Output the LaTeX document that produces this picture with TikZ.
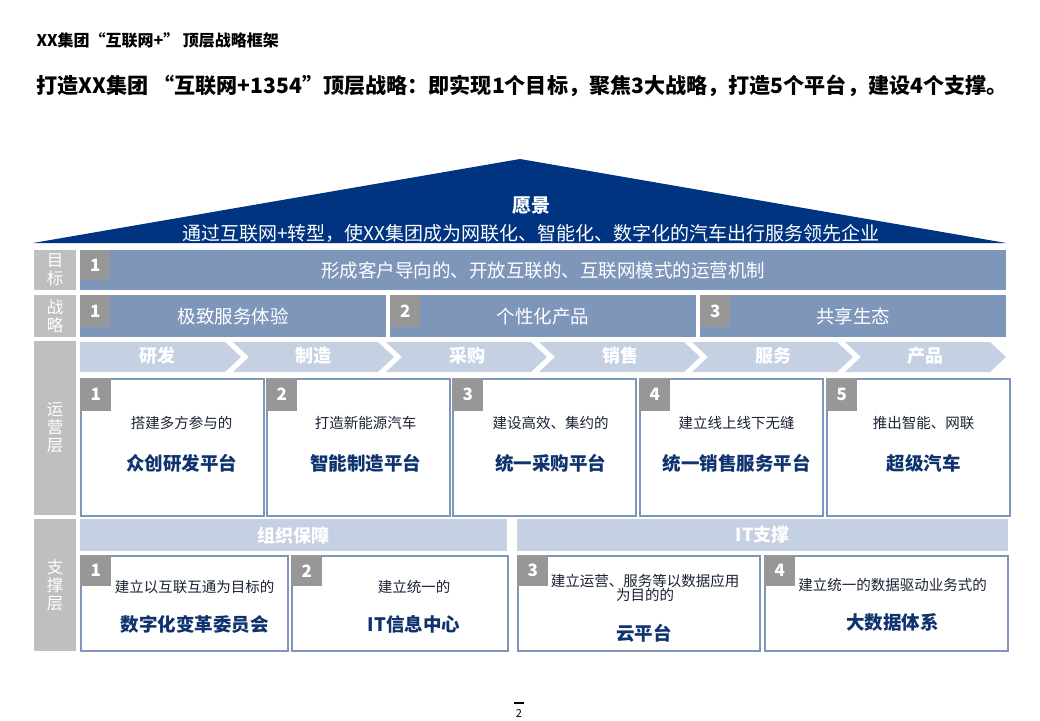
\documentclass[tikz,border=0pt]{standalone}
\usepackage{fontspec}
\setmainfont{Noto Sans CJK SC}
\usetikzlibrary{positioning}

\definecolor{roofblue}{HTML}{003380}
\definecolor{barblue}{HTML}{7F96BB}
\definecolor{chevblue}{HTML}{C5D0E2}
\definecolor{labelgray}{HTML}{BFBFBF}
\definecolor{numgray}{HTML}{979797}
\definecolor{titleblue}{HTML}{0E336E}
\definecolor{subdark}{HTML}{1B2236}

\begin{document}
\begin{tikzpicture}[x=1pt, y=-1pt,
  lbl/.style={fill=labelgray, text=white, inner sep=0pt, align=center, anchor=north west,
    font=\fontsize{16.5}{18}\selectfont},
  bar/.style={fill=barblue, text=white, inner sep=0pt, anchor=north west,
    font=\fontsize{18.5}{22}\selectfont},
  head/.style={fill=chevblue, text=white, inner sep=0pt, anchor=north west,
    font=\fontsize{18}{22}\selectfont\bfseries},
  numbox/.style={fill=numgray, text=white, inner sep=0pt, anchor=north west,
    minimum width=31pt, minimum height=31pt, font=\fontsize{17}{18}\selectfont\bfseries},
  chevtext/.style={text=white, font=\fontsize{18}{22}\selectfont\bfseries},
  platbox/.style={draw=barblue, line width=2pt, fill=white, inner sep=0pt, anchor=north west},
  subtext/.style={text=subdark, align=center, font=\fontsize{14.5}{14}\selectfont},
  maintext/.style={text=titleblue, font=\fontsize{18.5}{22}\selectfont\bfseries},
]

  %% ════ 标题 ════
  \node[anchor=west, font=\fontsize{16}{18}\selectfont\bfseries] (title) at (33,40) {XX集团“互联网+” 顶层战略框架};
  \node[anchor=west, font=\fontsize{21.1}{24}\selectfont\bfseries] (headline) at (33,86)
    {打造XX集团 “互联网+1354”顶层战略：即实现1个目标，聚焦3大战略，打造5个平台，建设4个支撑。};

  %% ════ 屋顶：愿景 ════
  \fill[roofblue] (33,243) -- (520,159) -- (1006,243) -- cycle;
  \node[text=white, font=\fontsize{19}{22}\selectfont\bfseries] (vision) at (531,206) {愿景};
  \node[text=white, font=\fontsize{19}{22}\selectfont] (visiontext) at (531,233)
    {通过互联网+转型，使XX集团成为网联化、智能化、数字化的汽车出行服务领先企业};

  %% ════ 左侧层标签 ════
  \node[lbl, minimum width=42pt, minimum height=40pt] (lgoal) at (34,250) {目\\标};
  \node[lbl, minimum width=42pt, minimum height=42pt] (lstrat) at (34,295) {战\\略};
  \node[lbl, minimum width=42pt, minimum height=174pt] (lops) at (34,341) {运\\营\\层};
  \node[lbl, minimum width=42pt, minimum height=132pt] (lsup) at (34,519) {支\\撑\\层};

  %% ════ 目标 ════
  \node[bar, minimum width=926pt, minimum height=40pt] (goal) at (80,250)
    {形成客户导向的、开放互联的、互联网模式的运营机制};
  \node[numbox, minimum width=30pt, minimum height=30pt] (goalnum) at (goal.north west) {1};

  %% ════ 战略 ════
  \node[bar, minimum width=306pt, minimum height=42pt] (strat1) at (80,295) {极致服务体验};
  \node[bar, minimum width=306pt, minimum height=42pt] (strat2) at (390,295) {个性化产品};
  \node[bar, minimum width=306pt, minimum height=42pt] (strat3) at (700,295) {共享生态};
  \node[numbox, minimum width=30pt, minimum height=32pt] (strat1num) at (strat1.north west) {1};
  \node[numbox, minimum width=30pt, minimum height=32pt] (strat2num) at (strat2.north west) {2};
  \node[numbox, minimum width=30pt, minimum height=32pt] (strat3num) at (strat3.north west) {3};

  %% ════ 价值链箭头 ════
  \fill[chevblue] (80,342) -- (225,342) -- (241,357) -- (225,372) -- (80,372) -- cycle;
  \fill[chevblue] (233,342) -- (378,342) -- (394,357) -- (378,372) -- (233,372) -- (249,357) -- cycle;
  \fill[chevblue] (386,342) -- (531,342) -- (547,357) -- (531,372) -- (386,372) -- (402,357) -- cycle;
  \fill[chevblue] (539,342) -- (684,342) -- (700,357) -- (684,372) -- (539,372) -- (555,357) -- cycle;
  \fill[chevblue] (692,342) -- (837,342) -- (853,357) -- (837,372) -- (692,372) -- (708,357) -- cycle;
  \fill[chevblue] (845,342) -- (990,342) -- (1006,357) -- (990,372) -- (845,372) -- (861,357) -- cycle;
  \node[chevtext] (rnd)     at (157,356) {研发};
  \node[chevtext] (make)    at (313,356) {制造};
  \node[chevtext] (buy)     at (467,356) {采购};
  \node[chevtext] (sell)    at (620,356) {销售};
  \node[chevtext] (service) at (773,356) {服务};
  \node[chevtext] (product) at (925,356) {产品};

  %% ════ 运营层：五个平台 ════
  \node[platbox, minimum width=183pt, minimum height=137pt] (plat1) at (80,378) {};
  \node[platbox, minimum width=183pt, minimum height=137pt] (plat2) at (266,378) {};
  \node[platbox, minimum width=183pt, minimum height=137pt] (plat3) at (452,378) {};
  \node[platbox, minimum width=183pt, minimum height=137pt] (plat4) at (639,378) {};
  \node[platbox, minimum width=183pt, minimum height=137pt] (plat5) at (826,378) {};
  \node[numbox, minimum height=33pt] (plat1num) at (plat1.north west) {1};
  \node[numbox, minimum height=33pt] (plat2num) at (plat2.north west) {2};
  \node[numbox, minimum height=33pt] (plat3num) at (plat3.north west) {3};
  \node[numbox, minimum height=33pt] (plat4num) at (plat4.north west) {4};
  \node[numbox, minimum height=33pt] (plat5num) at (plat5.north west) {5};
  \node[subtext]  (plat1sub)  at ([xshift=9pt,yshift=-45pt]plat1.north) {搭建多方参与的};
  \node[maintext] (plat1main) at ([xshift=9pt,yshift=-85pt]plat1.north) {众创研发平台};
  \node[subtext]  (plat2sub)  at ([xshift=7pt,yshift=-45pt]plat2.north) {打造新能源汽车};
  \node[maintext] (plat2main) at ([xshift=7pt,yshift=-85pt]plat2.north) {智能制造平台};
  \node[subtext]  (plat3sub)  at ([xshift=6pt,yshift=-45pt]plat3.north) {建设高效、集约的};
  \node[maintext] (plat3main) at ([xshift=6pt,yshift=-85pt]plat3.north) {统一采购平台};
  \node[subtext]  (plat4sub)  at ([xshift=5pt,yshift=-45pt]plat4.north) {建立线上线下无缝};
  \node[maintext] (plat4main) at ([xshift=5pt,yshift=-85pt]plat4.north) {统一销售服务平台};
  \node[subtext]  (plat5sub)  at ([xshift=5pt,yshift=-45pt]plat5.north) {推出智能、网联};
  \node[maintext] (plat5main) at ([xshift=5pt,yshift=-85pt]plat5.north) {超级汽车};

  %% ════ 支撑层 ════
  \node[head, minimum width=427pt, minimum height=32pt] (orghead) at (80,519) {组织保障};
  \node[head, minimum width=491pt, minimum height=32pt] (ithead) at (517,519) {IT支撑};
  \node[platbox, minimum width=207pt, minimum height=95pt] (sup1) at (80,555) {};
  \node[platbox, minimum width=216pt, minimum height=95pt] (sup2) at (291,555) {};
  \node[platbox, minimum width=242pt, minimum height=95pt] (sup3) at (517,555) {};
  \node[platbox, minimum width=243pt, minimum height=95pt] (sup4) at (764,555) {};
  \node[numbox] (sup1num) at (sup1.north west) {1};
  \node[numbox] (sup2num) at (sup2.north west) {2};
  \node[numbox] (sup3num) at (sup3.north west) {3};
  \node[numbox] (sup4num) at (sup4.north west) {4};
  \node[subtext]  (sup1sub)  at ([xshift=10pt,yshift=-32pt]sup1.north) {建立以互联互通为目标的};
  \node[maintext] (sup1main) at ([xshift=10pt,yshift=-69pt]sup1.north) {数字化变革委员会};
  \node[subtext]  (sup2sub)  at ([xshift=14pt,yshift=-32pt]sup2.north) {建立统一的};
  \node[maintext] (sup2main) at ([xshift=14pt,yshift=-69pt]sup2.north) {IT信息中心};
  \node[subtext]  (sup3sub)  at ([xshift=6pt,yshift=-33pt]sup3.north) {建立运营、服务等以数据应用\\为目的的};
  \node[maintext] (sup3main) at ([xshift=5pt,yshift=-78pt]sup3.north) {云平台};
  \node[subtext]  (sup4sub)  at ([xshift=6pt,yshift=-30pt]sup4.north) {建立统一的数据驱动业务式的};
  \node[maintext] (sup4main) at ([xshift=6pt,yshift=-67pt]sup4.north) {大数据体系};

  %% ════ 页码 ════
  \node[anchor=north, inner sep=0pt, align=center, font=\fontsize{11}{13}\selectfont] (pagenum) at (519,702)
    {\rule{10pt}{1.8pt}\\2};

  % 钉死画布
  \pgfresetboundingbox
  \path[use as bounding box] (0,0) rectangle (1040,720);
\end{tikzpicture}
\end{document}
